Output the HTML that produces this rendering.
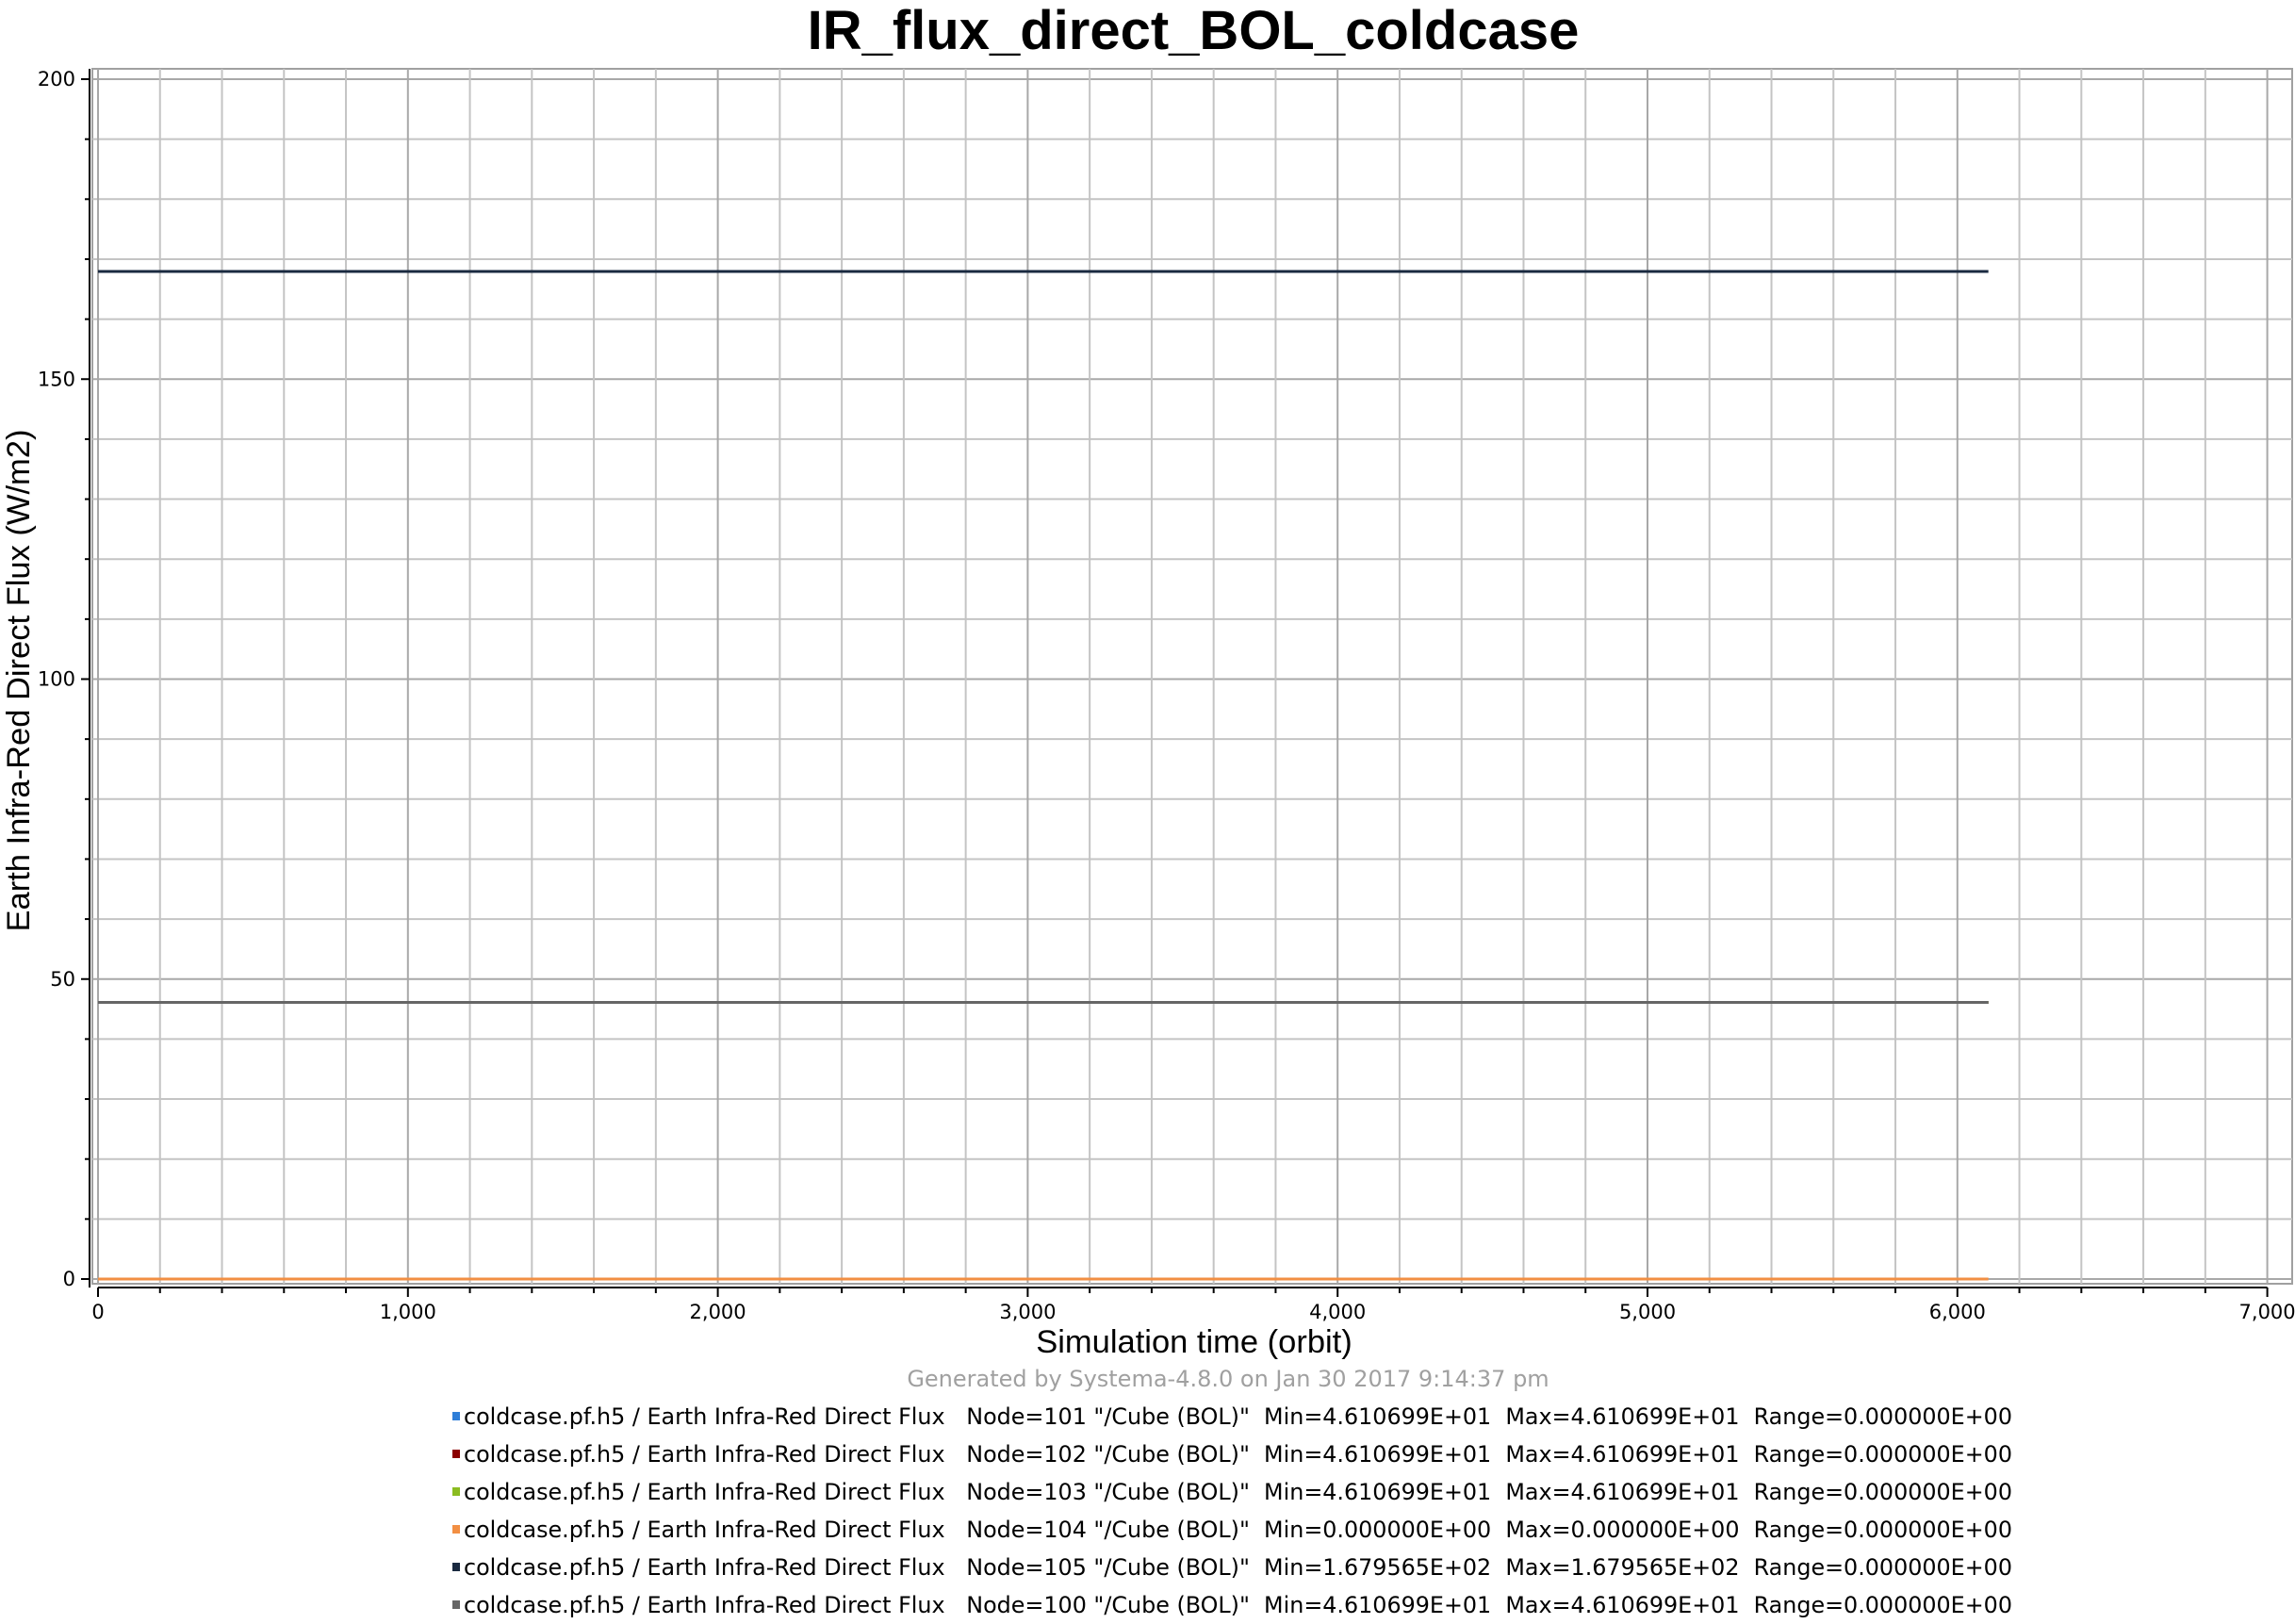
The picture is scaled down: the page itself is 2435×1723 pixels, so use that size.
<!DOCTYPE html>
<html><head><meta charset="utf-8">
<style>
html,body{margin:0;padding:0;background:#fff;}
svg{display:block;}
text{font-family:"DejaVu Sans","Liberation Sans",sans-serif;}
</style></head>
<body>
<svg id="chart" width="2435" height="1723" viewBox="0 0 2435 1723" xmlns="http://www.w3.org/2000/svg">
<rect x="0" y="0" width="2435" height="1723" fill="#fff"/>
<text x="1266" y="52" text-anchor="middle" font-weight="bold" font-size="58" fill="#000" style="font-family:'Liberation Sans',sans-serif">IR_flux_direct_BOL_coldcase</text>
<g id="grid"></g>
<g id="axes"></g>
<g id="series"></g>
<text x="1267" y="1435" text-anchor="middle" font-size="34.5" style="font-family:'Liberation Sans',sans-serif">Simulation time (orbit)</text>
<text transform="translate(31,722) rotate(-90)" text-anchor="middle" font-size="34.5" style="font-family:'Liberation Sans',sans-serif">Earth Infra-Red Direct Flux (W/m2)</text>
<text x="1303" y="1471" text-anchor="middle" font-size="24" fill="#a0a0a0">Generated by Systema-4.8.0 on Jan 30 2017 9:14:37 pm</text>
<g id="legend"></g>
</svg>
<script>
const seriesNodes = ["101","102","103","104","105","100"];
const seriesValues = [46.10699, 46.10699, 46.10699, 0, 167.9565, 46.10699];
const seriesStart = [0,0,0,0,0,0];
const seriesEnd = [6100,6100,6100,6100,6100,6100];
const seriesColors = ["#2f7ed8","#8b0000","#8bbc21","#f28f43","#1a2a40","#666666"];
const legendMin = ["4.610699E+01","4.610699E+01","4.610699E+01","0.000000E+00","1.679565E+02","4.610699E+01"];
const legendMax = ["4.610699E+01","4.610699E+01","4.610699E+01","0.000000E+00","1.679565E+02","4.610699E+01"];
const xTickLabels = ["0","1,000","2,000","3,000","4,000","5,000","6,000","7,000"];
const yTickLabels = ["0","50","100","150","200"];

const NS="http://www.w3.org/2000/svg";
const X0=104, XS=328.8/1000, Y0=1357, YS=6.365;
function xp(v){return X0+v*XS;}
function yp(v){return Y0-v*YS;}
function mk(tag,attrs,parent){const e=document.createElementNS(NS,tag);for(const k in attrs)e.setAttribute(k,attrs[k]);parent.appendChild(e);return e;}
const grid=document.getElementById('grid'),axes=document.getElementById('axes'),ser=document.getElementById('series'),leg=document.getElementById('legend');
const PL=98,PR=2432,PT=73,PB=1362;
let fr=mk('rect',{x:PL,y:PT,width:PR-PL,height:PB-PT,fill:'none',stroke:'#a0a0a0','stroke-width':2},grid);


for(let v=0;v<=200;v+=10){
  const l=mk('line',{x1:PL,x2:PR,y1:yp(v),y2:yp(v),stroke:v%50===0?'#a8a8a8':'#c4c4c4','stroke-width':2},grid);
  
  
  const t=mk('line',{x1:v%50===0?86:90,x2:95,y1:yp(v),y2:yp(v),stroke:'#000','stroke-width':2},axes);
  
  
}
for(let v=0;v<=7000;v+=200){
  const l=mk('line',{x1:xp(v),x2:xp(v),y1:PT,y2:PB,stroke:v%1000===0?'#a8a8a8':'#c4c4c4','stroke-width':2},grid);
  
  
  const t=mk('line',{x1:xp(v),x2:xp(v),y1:1366,y2:v%1000===0?1376:1372,stroke:'#000','stroke-width':2},axes);
  
  
}
let ya=mk('line',{x1:95,x2:95,y1:PT,y2:1366,stroke:'#000','stroke-width':2},axes);


let xa=mk('line',{x1:xp(0),x2:xp(7000),y1:1366,y2:1366,stroke:'#000','stroke-width':2},axes);


yTickLabels.forEach(s=>{
  const v=parseFloat(s);
  const t=mk('text',{x:80,y:yp(v)+7,'text-anchor':'end','font-size':21},axes);
  t.textContent=s;
  
  
});
xTickLabels.forEach(s=>{
  const v=parseFloat(s.replace(/,/g,''));
  const t=mk('text',{x:xp(v),y:1399,'text-anchor':'middle','font-size':21},axes);
  t.textContent=s;
  
  
});
seriesValues.forEach((v,i)=>{
  const l=mk('line',{x1:xp(seriesStart[i]),x2:xp(seriesEnd[i]),y1:yp(v),y2:yp(v),stroke:seriesColors[i],'stroke-width':3},ser);
  
  
});
const rowY=[1511,1551,1591,1631,1671,1711];
seriesNodes.forEach((n,i)=>{
  const g=mk('g',{},leg);
  
  
  mk('rect',{x:480,y:rowY[i]-13,width:8,height:9,fill:seriesColors[i]},g);
  const t=mk('text',{x:492,y:rowY[i],'font-size':24,'textLength':1643,'lengthAdjust':'spacingAndGlyphs','xml:space':'preserve'},g);
  t.style.whiteSpace='pre';
  t.textContent='coldcase.pf.h5 / Earth Infra-Red Direct Flux   Node='+n+' "/Cube (BOL)"  Min='+legendMin[i]+'  Max='+legendMax[i]+'  Range=0.000000E+00';
});
</script>
</body></html>
